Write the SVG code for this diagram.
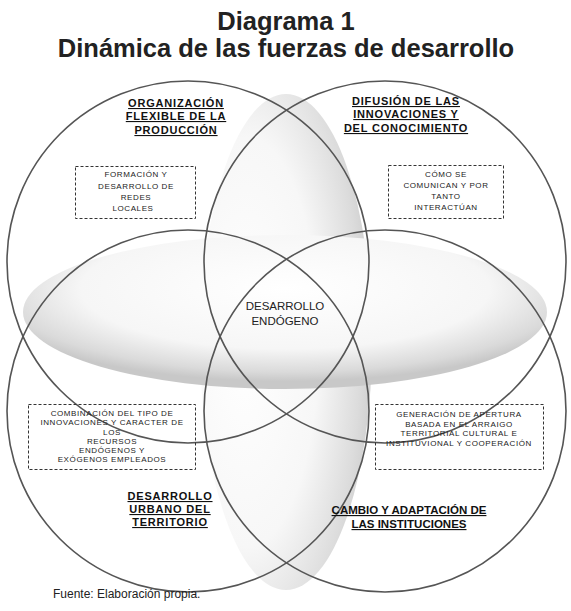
<svg xmlns="http://www.w3.org/2000/svg" width="571" height="611" viewBox="0 0 571 611">
<style>
.title{font-family:"Liberation Sans",Arial,sans-serif;font-weight:bold;font-size:25.5px;fill:#222;text-anchor:middle}
.hdr{font-family:"Liberation Sans",Arial,sans-serif;font-weight:bold;font-size:11px;fill:#111;text-anchor:middle;text-decoration:underline;letter-spacing:0.8px}
.hdr2{font-family:"Liberation Sans",Arial,sans-serif;font-weight:bold;font-size:11.5px;fill:#111;text-anchor:middle;text-decoration:underline}
.box{fill:none;stroke:#333;stroke-width:1;stroke-dasharray:3,2}
.bt{font-family:"Liberation Sans",Arial,sans-serif;font-size:8px;fill:#222;text-anchor:middle;letter-spacing:0.6px}
.ctr{font-family:"Liberation Sans",Arial,sans-serif;font-size:11.5px;fill:#222;text-anchor:middle}
.circ{fill:none;stroke:#555;stroke-width:1.6}
.foot{font-family:"Liberation Sans",Arial,sans-serif;font-size:12px;fill:#222}
</style>
<defs>
<radialGradient id="gv" cx="0.3" cy="0.5" r="0.75" fx="0.25" fy="0.5">
<stop offset="0" stop-color="#ffffff"/>
<stop offset="0.55" stop-color="#f7f7f7"/>
<stop offset="0.85" stop-color="#dcdcdc"/>
<stop offset="1" stop-color="#cacaca"/>
</radialGradient>
<radialGradient id="gh" cx="0.5" cy="0.35" r="0.6">
<stop offset="0" stop-color="#ffffff"/>
<stop offset="0.65" stop-color="#f6f6f6"/>
<stop offset="0.9" stop-color="#dadada"/>
<stop offset="1" stop-color="#c8c8c8"/>
</radialGradient>
</defs>
<rect width="571" height="611" fill="#fff"/>
<text class="title" x="286" y="30">Diagrama 1</text>
<text class="title" x="286" y="57">Dinámica de las fuerzas de desarrollo</text>
<g id="shading">
<ellipse cx="286" cy="342" rx="86" ry="248" fill="url(#gv)"/>
<ellipse cx="285" cy="312" rx="262" ry="77" fill="url(#gh)"/>
</g>
<g id="connectors">
<circle class="circ" cx="188" cy="262" r="181"/>
<circle class="circ" cx="385" cy="262" r="181"/>
<circle class="circ" cx="188" cy="411" r="181"/>
<circle class="circ" cx="385" cy="411" r="181"/>
</g>
<g id="n-organizacion">
<text class="hdr" x="176" y="107">ORGANIZACIÓN</text>
<text class="hdr" x="176" y="120">FLEXIBLE DE LA</text>
<text class="hdr" x="176" y="134">PRODUCCIÓN</text>
</g>
<g id="n-difusion">
<text class="hdr" x="406" y="105">DIFUSIÓN DE LAS</text>
<text class="hdr" x="406" y="118">INNOVACIONES Y</text>
<text class="hdr" x="406" y="132">DEL CONOCIMIENTO</text>
</g>
<g id="n-formacion">
<rect class="box" x="75.5" y="166.5" width="120" height="52"/>
<text class="bt" x="136" y="177">FORMACIÓN Y</text>
<text class="bt" x="136" y="189">DESARROLLO DE</text>
<text class="bt" x="136" y="200">REDES</text>
<text class="bt" x="133" y="211">LOCALES</text>
</g>
<g id="n-comunican">
<rect class="box" x="388.5" y="165.5" width="115" height="53"/>
<text class="bt" x="446" y="177">CÓMO SE</text>
<text class="bt" x="446" y="188">COMUNICAN Y POR</text>
<text class="bt" x="446" y="199">TANTO</text>
<text class="bt" x="446" y="210">INTERACTÚAN</text>
</g>
<g id="n-centro">
<text class="ctr" x="285" y="310">DESARROLLO</text>
<text class="ctr" x="285" y="325">ENDÓGENO</text>
</g>
<g id="n-combinacion">
<rect class="box" x="28.5" y="404.5" width="167" height="65"/>
<text class="bt" x="112" y="416">COMBINACIÓN DEL TIPO DE</text>
<text class="bt" x="112" y="425">INNOVACIONES Y CARACTER DE</text>
<text class="bt" x="112" y="435">LOS</text>
<text class="bt" x="112" y="444">RECURSOS</text>
<text class="bt" x="112" y="453">ENDÓGENOS Y</text>
<text class="bt" x="112" y="462">EXÓGENOS EMPLEADOS</text>
</g>
<g id="n-generacion">
<rect class="box" x="375.5" y="404.5" width="168" height="65"/>
<text class="bt" x="459" y="417">GENERACIÓN DE APERTURA</text>
<text class="bt" x="459" y="427">BASADA EN EL ARRAIGO</text>
<text class="bt" x="459" y="436">TERRITORIAL CULTURAL E</text>
<text class="bt" x="459" y="446">INSTITUVIONAL Y COOPERACIÓN</text>
</g>
<g id="n-urbano">
<text class="hdr" x="170" y="500">DESARROLLO</text>
<text class="hdr" x="170" y="513">URBANO DEL</text>
<text class="hdr" x="170" y="526">TERRITORIO</text>
</g>
<g id="n-cambio">
<text class="hdr2" x="409" y="514">CAMBIO Y ADAPTACIÓN  DE</text>
<text class="hdr2" x="409" y="528">LAS INSTITUCIONES</text>
</g>
<text class="foot" x="53" y="598">Fuente: Elaboración propia.</text>
</svg>
